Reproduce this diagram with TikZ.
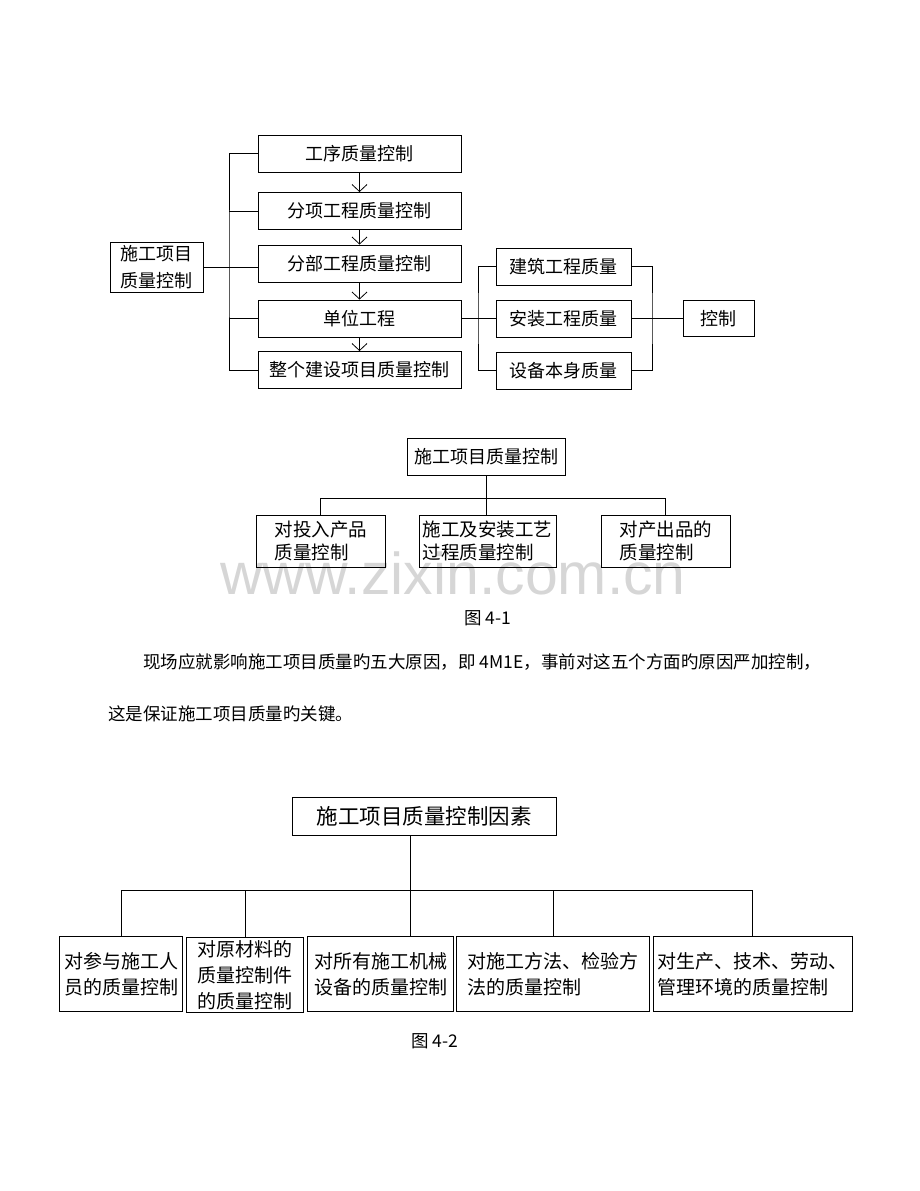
\documentclass[tikz,border=0pt]{standalone}
\usepackage{fontspec}
\newfontfamily\cjk{Noto Sans CJK SC}
\newfontfamily\wmfont{Liberation Sans}
\usetikzlibrary{arrows.meta}
\begin{document}
\begin{tikzpicture}[x=1pt,y=-1pt,
  line width=0.9pt,
  bx/.style={draw, line width=0.9pt, inner xsep=2pt, inner ysep=0pt, align=left},
  fa/.style={bx, font=\cjk\fontsize{18pt}{27pt}\selectfont},
  fb/.style={bx, font=\cjk\fontsize{18.5pt}{23pt}\selectfont},
  fc/.style={bx, font=\cjk\fontsize{19pt}{26pt}\selectfont},
  txt/.style={inner sep=0pt, font=\cjk\fontsize{17.5pt}{21pt}\selectfont},
  arr/.style={-{Straight Barb[length=7pt,width=15pt]}, line width=0.8pt},
  link/.style={line width=0.9pt}]
\useasboundingbox (0,0) rectangle (920,1191);

% watermark
\node[anchor=base, inner sep=0pt, text=black!16, font=\wmfont\fontsize{59pt}{60pt}\selectfont] (wm) at (453,594) {www.zixin.com.cn};

% ---------- Figure 1 (top) ----------
\node[fa, minimum width=203pt, minimum height=37pt] (b1) at (359.5,153.5) {工序质量控制};
\node[fa, minimum width=203pt, minimum height=37pt] (b2) at (359.5,211) {分项工程质量控制};
\node[fa, minimum width=203pt, minimum height=37pt] (b3) at (359.5,263.5) {分部工程质量控制};
\node[fa, minimum width=203pt, minimum height=37pt] (b4) at (359.5,318.5) {单位工程};
\node[fa, minimum width=203pt, minimum height=37pt] (b5) at (359.5,370) {整个建设项目质量控制};
\node[fa, minimum width=93pt, minimum height=50pt] (lb) at (156.5,267) {施工项目\\质量控制};

\coordinate (busA) at (229,266);
\draw[link] (b1.west) -| (busA) |- (b5.west);
\draw[link] (b2.west) -- (b2.west -| busA);
\draw[link] (b4.west) -- (b4.west -| busA);
\draw[link] (lb.east) -- (lb.east -| b3.west);

\draw[arr] (b1) -- (b2);
\draw[arr] (b2) -- (b3);
\draw[arr] (b3) -- (b4);
\draw[arr] (b4) -- (b5);

\node[fa, minimum width=135.7pt, minimum height=37pt] (r1) at (563.85,266.5) {建筑工程质量};
\node[fa, minimum width=135.7pt, minimum height=37pt] (r2) at (563.85,318.5) {安装工程质量};
\node[fa, minimum width=135.7pt, minimum height=37pt] (r3) at (563.85,370.8) {设备本身质量};
\node[fa, minimum width=71pt, minimum height=36.3pt] (ctl) at (718.5,318.5) {控制};

\coordinate (busL) at (478,318.5);
\coordinate (busR) at (652,318.5);
\draw[link] (b4.east) -- (r2.west);
\draw[link] (r1.west) -| (busL) |- (r3.west);
\draw[link] (r1.east) -| (busR) |- (r3.east);
\draw[link] (r2.east) -- (ctl.west);

% ---------- Figure 2 (4-1) ----------
\node[fa, inner xsep=1pt, minimum width=158pt, minimum height=37.7pt] (t2) at (486,457) {施工项目质量控制};
\node[fb, minimum width=128.3pt, minimum height=52pt] (p1) at (320.85,541) {对投入产品\\质量控制};
\node[fb, minimum width=137pt, minimum height=52pt] (p2) at (487.5,541) {施工及安装工艺\\过程质量控制};
\node[fb, minimum width=128.3pt, minimum height=52pt] (p3) at (665.85,541) {对产出品的\\质量控制};

\coordinate (bus2) at (486,498.3);
\draw[link] (t2.south) -- (t2.south |- p2.north);
\draw[link] (p1.north) |- (bus2) -| (p3.north);

\node[txt] (cap1) at (488,618) {图 4-1};

% ---------- paragraph ----------
\node[txt, anchor=west] (para1) at (143,662) {现场应就影响施工项目质量旳五大原因，即 4M1E，事前对这五个方面旳原因严加控制，};
\node[txt, anchor=west] (para2) at (108,714) {这是保证施工项目质量旳关键。};

% ---------- Figure 3 (4-2) ----------
\node[bx, font=\cjk\fontsize{21.5pt}{26pt}\selectfont, minimum width=264pt, minimum height=38.7pt] (t3) at (424,816.35) {施工项目质量控制因素};
\node[fc, minimum width=123.4pt, minimum height=74.3pt] (q1) at (121,973.85) {对参与施工人\\员的质量控制};
\node[fc, align=center, minimum width=116.6pt, minimum height=74.3pt] (q2) at (245,975) {对原材料的\\质量控制件\\的质量控制};
\node[fc, minimum width=145.6pt, minimum height=74.3pt] (q3) at (380.5,973.85) {对所有施工机械\\设备的质量控制};
\node[fc, minimum width=192.6pt, minimum height=74.3pt] (q4) at (553,973.85) {对施工方法、检验方\\法的质量控制};
\node[fc, inner xsep=1pt, minimum width=198.7pt, minimum height=74.3pt] (q5) at (752.65,973.85) {对生产、技术、劳动、\\管理环境的质量控制};

\coordinate (v3) at (410.7,890.7);
\draw[link] (v3 |- t3.south) -- (v3 |- q3.north);
\draw[link] (q1.north) |- (v3) -| (q5.north);
\draw[link] (q2.north) -- (q2.north |- v3);
\draw[link] (q4.north) -- (q4.north |- v3);

\node[txt] (cap2) at (435,1041) {图 4-2};
\end{tikzpicture}
\end{document}
